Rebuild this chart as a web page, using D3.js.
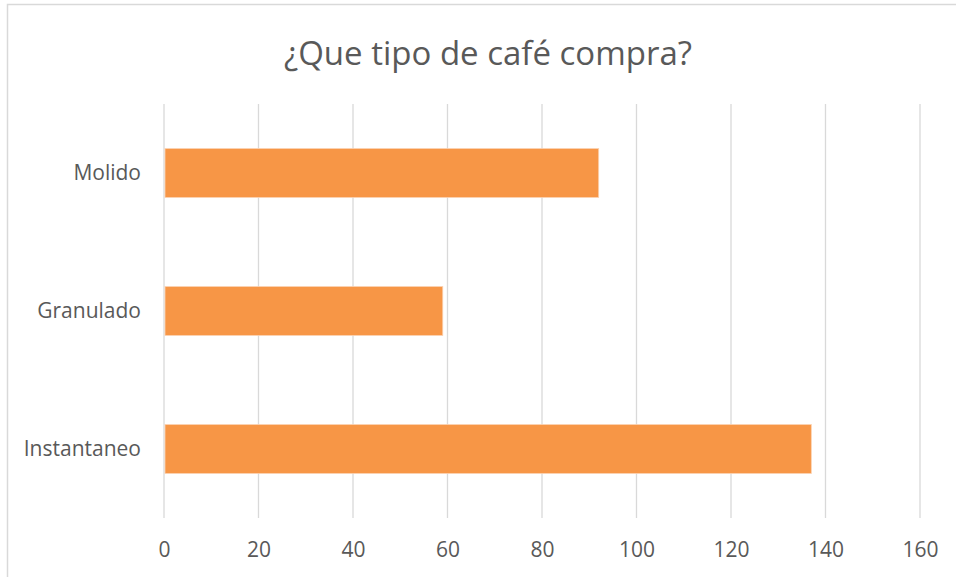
<!DOCTYPE html>
<html>
<head>
<meta charset="utf-8">
<script src="https://cdn.jsdelivr.net/npm/d3@7"></script>
<style>
  html, body { margin: 0; padding: 0; background: #fff; }
  svg { display: block; }
</style>
</head>
<body>
<svg id="chart" width="956" height="577"></svg>
<script>
// Survey answers: type of coffee bought
const categories = ["Molido", "Granulado", "Instantaneo"];
const values = [92, 59, 137];
const xTicks = [0, 20, 40, 60, 80, 100, 120, 140, 160];
const title = "¿Que tipo de café compra?";

const W = 956, H = 577;
const svg = d3.select("#chart");
const font = "'Open Sans', sans-serif";

// chart frame
svg.append("rect")
  .attr("x", 7.5).attr("y", 4.5)
  .attr("width", W + 20).attr("height", H + 20)
  .attr("fill", "#fff")
  .attr("stroke", "#d9d9d9").attr("stroke-width", 1.5);

const plot = { left: 164, right: 920, top: 104, bottom: 518 };

const x = d3.scaleLinear().domain([0, 160]).range([plot.left, plot.right]);
const y = d3.scaleBand().domain(categories).range([plot.top, plot.bottom]).paddingInner(0.645).paddingOuter(0.3225);

// vertical gridlines
svg.append("g").selectAll("line").data(xTicks).join("line")
  .attr("x1", d => x(d)).attr("x2", d => x(d))
  .attr("y1", plot.top).attr("y2", plot.bottom)
  .attr("stroke", "#d9d9d9").attr("stroke-width", 1.3);

// bars
svg.append("g").selectAll("rect").data(categories).join("rect")
  .attr("x", x(0) + 1)
  .attr("y", d => y(d))
  .attr("width", (d, i) => x(values[i]) - x(0) - 1)
  .attr("height", y.bandwidth())
  .attr("fill", "#f79646")
  .attr("stroke", "#fbd3b3").attr("stroke-width", 0.8);

// x axis labels
const xAxis = d3.axisBottom(x).tickValues(xTicks).tickSize(0).tickPadding(0);
const gx = svg.append("g").attr("transform", `translate(0,${plot.bottom + 24})`).call(xAxis);
gx.select(".domain").remove();
gx.selectAll("text")
  .attr("font-family", font).attr("font-size", 21).attr("fill", "#595959");

// category labels
const yAxis = d3.axisLeft(y).tickSize(0).tickPadding(0);
const gy = svg.append("g").attr("transform", `translate(${plot.left - 23},0)`).call(yAxis);
gy.select(".domain").remove();
gy.selectAll("text")
  .attr("font-family", font).attr("font-size", 21).attr("fill", "#595959");

// title
svg.append("text")
  .attr("x", 488).attr("y", 65)
  .attr("text-anchor", "middle")
  .attr("font-family", font).attr("font-size", 33)
  .attr("fill", "#595959")
  .text(title);
</script>
</body>
</html>
